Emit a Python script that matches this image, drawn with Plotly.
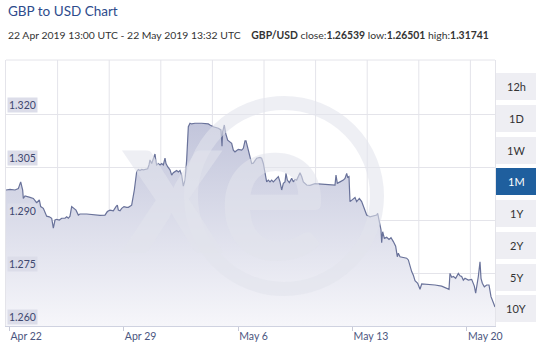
import pandas as pd
import plotly.graph_objects as go

# ---------------- data ----------------
days_from_apr22 = [-0.214, 0.031, 0.337, 0.540, 0.684, 0.806, 0.846, 0.949, 1.255, 1.458, 1.663, 1.826, 1.908, 2.071, 2.275, 2.438, 2.581, 2.683, 2.785, 2.887, 3.050, 3.193, 3.397, 3.499, 3.601, 3.703, 3.805, 3.907, 4.070, 4.213, 4.315, 4.723, 5.131, 5.539, 5.845, 5.988, 6.151, 6.355, 6.518, 6.600, 6.661, 6.763, 6.865, 7.008, 7.171, 7.273, 7.477, 7.640, 7.783, 7.885, 7.987, 8.089, 8.191, 8.334, 8.457, 8.538, 8.599, 8.701, 8.803, 8.905, 8.966, 9.007, 9.109, 9.211, 9.313, 9.415, 9.517, 9.578, 9.680, 9.823, 9.925, 10.027, 10.129, 10.231, 10.333, 10.435, 10.537, 10.639, 10.741, 10.843, 10.945, 11.047, 11.149, 11.353, 11.761, 12.169, 12.271, 12.475, 12.781, 12.944, 13.006, 13.047, 13.148, 13.230, 13.353, 13.495, 13.597, 13.699, 13.801, 14.005, 14.209, 14.311, 14.413, 14.474, 14.577, 14.658, 14.821, 14.923, 15.127, 15.331, 15.434, 15.535, 15.637, 15.739, 15.841, 15.943, 16.045, 16.147, 16.249, 16.453, 16.555, 16.657, 16.759, 16.861, 16.922, 17.004, 17.127, 17.270, 17.371, 17.473, 17.576, 17.677, 17.780, 17.882, 17.984, 18.188, 18.392, 18.698, 19.106, 19.514, 19.820, 19.922, 19.983, 20.064, 20.228, 20.432, 20.534, 20.636, 20.697, 20.778, 20.840, 20.942, 21.146, 21.248, 21.411, 21.554, 21.758, 21.860, 22.064, 22.268, 22.472, 22.533, 22.615, 22.737, 22.778, 22.839, 22.941, 23.084, 23.227, 23.349, 23.492, 23.634, 23.736, 23.797, 23.900, 24.104, 24.308, 24.410, 24.512, 24.614, 24.716, 24.818, 24.982, 25.124, 25.227, 25.634, 26.042, 26.450, 26.756, 26.899, 26.960, 27.062, 27.164, 27.307, 27.470, 27.572, 27.674, 27.776, 27.878, 28.082, 28.286, 28.449, 28.531, 28.592, 28.694, 28.796, 28.857, 28.939, 29.061, 29.204, 29.347, 29.469, 29.571, 29.714]

gbp_usd = [1.2985, 1.2987, 1.2985, 1.2989, 1.3008, 1.2985, 1.2961, 1.2968, 1.2964, 1.2961, 1.2949, 1.2957, 1.2938, 1.2933, 1.2911, 1.2909, 1.2905, 1.2877, 1.2900, 1.2902, 1.2900, 1.2905, 1.2905, 1.2909, 1.2905, 1.2911, 1.2938, 1.2933, 1.2928, 1.2914, 1.2917, 1.2917, 1.2915, 1.2913, 1.2914, 1.2924, 1.2928, 1.2926, 1.2938, 1.2942, 1.2928, 1.2926, 1.2933, 1.2938, 1.2936, 1.2936, 1.2942, 1.2985, 1.3037, 1.3043, 1.3040, 1.3043, 1.3042, 1.3043, 1.3045, 1.3056, 1.3070, 1.3060, 1.3075, 1.3087, 1.3065, 1.3056, 1.3060, 1.3056, 1.3060, 1.3056, 1.3075, 1.3060, 1.3051, 1.3042, 1.3027, 1.3034, 1.3037, 1.3040, 1.3036, 1.3040, 1.3027, 1.2996, 1.3013, 1.3070, 1.3164, 1.3174, 1.3172, 1.3174, 1.3174, 1.3172, 1.3169, 1.3164, 1.3160, 1.3155, 1.3109, 1.3150, 1.3169, 1.3145, 1.3126, 1.3122, 1.3117, 1.3098, 1.3093, 1.3100, 1.3098, 1.3103, 1.3124, 1.3124, 1.3107, 1.3089, 1.3060, 1.3061, 1.3075, 1.3077, 1.3075, 1.3060, 1.3032, 1.3008, 1.3013, 1.3008, 1.3013, 1.3008, 1.3013, 1.3023, 1.3008, 1.2985, 1.3004, 1.3008, 1.3032, 1.3013, 1.3006, 1.3018, 1.3008, 1.3015, 1.3013, 1.3023, 1.3034, 1.3023, 1.3008, 1.2999, 1.2998, 1.3003, 1.3001, 1.3001, 1.2998, 1.2999, 1.3027, 1.3004, 1.3008, 1.3013, 1.3018, 1.3032, 1.3021, 1.3023, 1.2952, 1.2957, 1.2964, 1.2952, 1.2961, 1.2952, 1.2924, 1.2914, 1.2909, 1.2911, 1.2914, 1.2919, 1.2900, 1.2872, 1.2836, 1.2867, 1.2848, 1.2851, 1.2845, 1.2850, 1.2839, 1.2826, 1.2796, 1.2806, 1.2796, 1.2794, 1.2792, 1.2787, 1.2768, 1.2754, 1.2744, 1.2728, 1.2721, 1.2704, 1.2719, 1.2718, 1.2716, 1.2713, 1.2707, 1.2704, 1.2749, 1.2738, 1.2740, 1.2735, 1.2749, 1.2742, 1.2740, 1.2730, 1.2735, 1.2730, 1.2732, 1.2713, 1.2693, 1.2707, 1.2740, 1.2782, 1.2735, 1.2721, 1.2711, 1.2716, 1.2716, 1.2683, 1.2669, 1.2654]

x_tick_dates = ["2019-04-22", "2019-04-29", "2019-05-06", "2019-05-13", "2019-05-20"]
x_tick_labels = ["Apr 22", "Apr 29", "May 6", "May 13", "May 20"]
y_tick_values = [1.260, 1.275, 1.290, 1.305, 1.320]
y_tick_labels = ["1.260", "1.275", "1.290", "1.305", "1.320"]
range_buttons = ["12h", "1D", "1W", "1M", "1Y", "2Y", "5Y", "10Y"]
selected_button = "1M"

title_text = "GBP to USD Chart"
subtitle_text = ("22 Apr 2019 13:00 UTC - 22 May 2019 13:32 UTC&nbsp;&nbsp;&nbsp; "
                 "<b>GBP/USD</b> close:<b>1.26539</b> low:<b>1.26501</b> high:<b>1.31741</b>")

assert len(days_from_apr22) == len(gbp_usd)

# ---------------- figure ----------------
W, H = 543, 357
ML, MR, MT, MB = 6, 48, 60, 31
PW, PH = W - ML - MR, H - MT - MB

def px(xp):
    return (xp - ML) / PW

def py(yp):
    return (H - MB - yp) / PH

base = pd.Timestamp("2019-04-22")
x_dates = base + pd.to_timedelta(days_from_apr22, unit="D")
x_left = base + pd.to_timedelta(-0.2142, unit="D")
x_right = base + pd.to_timedelta(29.714, unit="D")

FONT = "Lato"
fig = go.Figure()
fig.add_trace(go.Scatter(
    x=x_dates, y=gbp_usd, mode="lines",
    line=dict(color="#69729a", width=1.2),
    fill="tozeroy",
    fillgradient=dict(type="vertical",
                      colorscale=[[0, "#f6f6fa"], [1, "#c2c5db"]],
                      start=1.260, stop=1.3174),
    hoverinfo="skip", showlegend=False,
))

grid_c = "#e4e4ea"
fig.update_layout(
    width=W, height=H,
    margin=dict(l=ML, r=MR, t=MT, b=MB, pad=0),
    paper_bgcolor="white", plot_bgcolor="white",
    font=dict(family=FONT, size=11, color="#333333"),
    xaxis=dict(
        type="date", range=[x_left, x_right],
        tickvals=x_tick_dates, ticktext=x_tick_labels,
        ticks="outside", ticklen=4, tickcolor="#c8cad8",
        ticklabelposition="outside right",
        tickfont=dict(size=10.5, color="#4b5680", family=FONT),
        showgrid=False, zeroline=False,
        showline=True, linecolor="#cfd2e0", linewidth=1,
        fixedrange=True,
    ),
    yaxis=dict(
        range=[1.260, 1.3353], tickvals=y_tick_values,
        showticklabels=False, showgrid=True, gridcolor=grid_c, gridwidth=1,
        zeroline=False, showline=True, mirror=True, linecolor=grid_c,
        ticks="",
    ),
)

shapes = []
# vertical background grid (fixed pixel spacing as in the reference)
k = 1
while 6 + k * 51.6 < 494:
    xx = px(6 + k * 51.6)
    shapes.append(dict(type="line", xref="paper", yref="paper", x0=xx, x1=xx, y0=0, y1=1,
                       line=dict(color=grid_c, width=1), layer="below"))
    k += 1
# top border
shapes.append(dict(type="line", xref="paper", yref="paper", x0=0, x1=1, y0=1, y1=1,
                   line=dict(color=grid_c, width=1), layer="below"))

# watermark ring
wm = "rgba(226,227,236,0.58)"
shapes.append(dict(type="circle", xref="paper", yref="paper",
                   x0=px(191), x1=px(377), y0=py(289), y1=py(103),
                   line=dict(color=wm, width=14), layer="above"))

# range buttons
btn_top = [73, 105, 137, 168, 200, 232, 264, 295]
annotations = []
for lab, top in zip(range_buttons, btn_top):
    sel = lab == selected_button
    shapes.append(dict(type="rect", xref="paper", yref="paper",
                       x0=px(496), x1=px(536), y0=py(top + 27), y1=py(top),
                       fillcolor="#1f5f9e" if sel else "#eeeef3", line=dict(width=0),
                       layer="above"))
    annotations.append(dict(xref="paper", yref="paper", x=px(516), y=py(top + 13.5),
                            text=lab, showarrow=False, xanchor="center", yanchor="middle",
                            font=dict(size=11, family=FONT,
                                      color="white" if sel else "#333333")))

# watermark letters
annotations.append(dict(xref="paper", yref="paper", x=px(172), y=py(176), text="<b>x</b>",
                        showarrow=False, xanchor="center", yanchor="middle",
                        font=dict(size=200, family=FONT, color=wm)))
annotations.append(dict(xref="paper", yref="paper", x=px(272), y=py(180), text="<b>e</b>",
                        showarrow=False, xanchor="center", yanchor="middle",
                        font=dict(size=205, family=FONT, color=wm)))

# y tick labels inside the plot with a tinted background
for v, t in zip(y_tick_values, y_tick_labels):
    annotations.append(dict(xref="paper", yref="y", x=0.002, y=v, text=t,
                            showarrow=False, xanchor="left", yanchor="bottom",
                            yshift=1, bgcolor="#dcdde9", borderpad=1,
                            font=dict(size=10.5, family=FONT, color="#3e476f")))

# title and subtitle
annotations.append(dict(xref="paper", yref="paper", x=0, y=py(11), text=title_text,
                        showarrow=False, xanchor="left", yanchor="middle",
                        font=dict(size=13.5, family=FONT, color="#2d4b8c")))
annotations.append(dict(xref="paper", yref="paper", x=0, y=py(35), text=subtitle_text,
                        showarrow=False, xanchor="left", yanchor="middle",
                        font=dict(size=10.4, family=FONT, color="#333333")))

fig.update_layout(shapes=shapes, annotations=annotations)
fig.write_html("out.html")
